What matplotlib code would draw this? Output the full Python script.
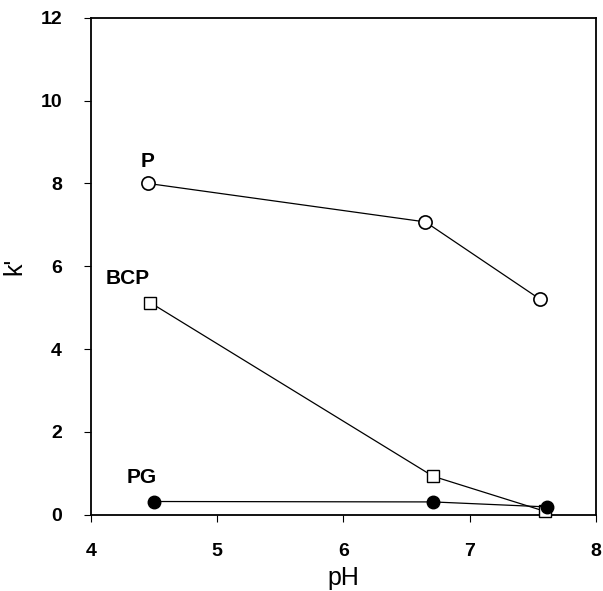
import matplotlib.pyplot as plt

plt.rcParams['font.family'] = ['Liberation Sans', 'DejaVu Sans']

# k' vs pH for three compounds
ph_p = [4.45, 6.65, 7.56]
k_p = [8.0, 7.07, 5.2]
ph_bcp = [4.47, 6.71, 7.6]
k_bcp = [5.12, 0.93, 0.08]
ph_pg = [4.5, 6.71, 7.61]
k_pg = [0.32, 0.31, 0.19]

fig = plt.figure(figsize=(6.03, 5.91), dpi=100)
ax = fig.add_axes([0.151, 0.129, 0.837, 0.841])

ax.plot(ph_p, k_p, color='black', lw=0.9, marker='o', ms=9.5,
        mfc='white', mec='black', mew=1.2, clip_on=False, zorder=3)
ax.plot(ph_bcp, k_bcp, color='black', lw=0.9, marker='s', ms=8.5,
        mfc='white', mec='black', mew=1.0, clip_on=False, zorder=3)
ax.plot(ph_pg, k_pg, color='black', lw=0.9, marker='o', ms=9,
        mfc='black', mec='black', clip_on=False, zorder=4)

ax.text(ph_p[0], k_p[0] + 0.4, 'P', fontsize=15, fontweight='bold', ha='center')
ax.text(ph_bcp[0] - 0.18, k_bcp[0] + 0.45, 'BCP', fontsize=15, fontweight='bold', ha='center')
ax.text(ph_pg[0] - 0.1, k_pg[0] + 0.45, 'PG', fontsize=15, fontweight='bold', ha='center')

ax.set_xlim(4, 8)
ax.set_ylim(0, 12)
ax.set_xticks([4, 5, 6, 7, 8])
ax.set_yticks([0, 2, 4, 6, 8, 10, 12])
ax.tick_params(direction='out', length=5, width=0.8, labelsize=14)
ax.tick_params(axis='x', pad=15)
ax.tick_params(axis='y', pad=16)
for lab in ax.get_xticklabels() + ax.get_yticklabels():
    lab.set_fontweight('bold')
for s in ax.spines.values():
    s.set_linewidth(1.3)

ax.set_xlabel('pH', fontsize=18, labelpad=5)
ax.set_ylabel("k'", fontsize=18, labelpad=10)

plt.savefig('out.png', dpi=100)
